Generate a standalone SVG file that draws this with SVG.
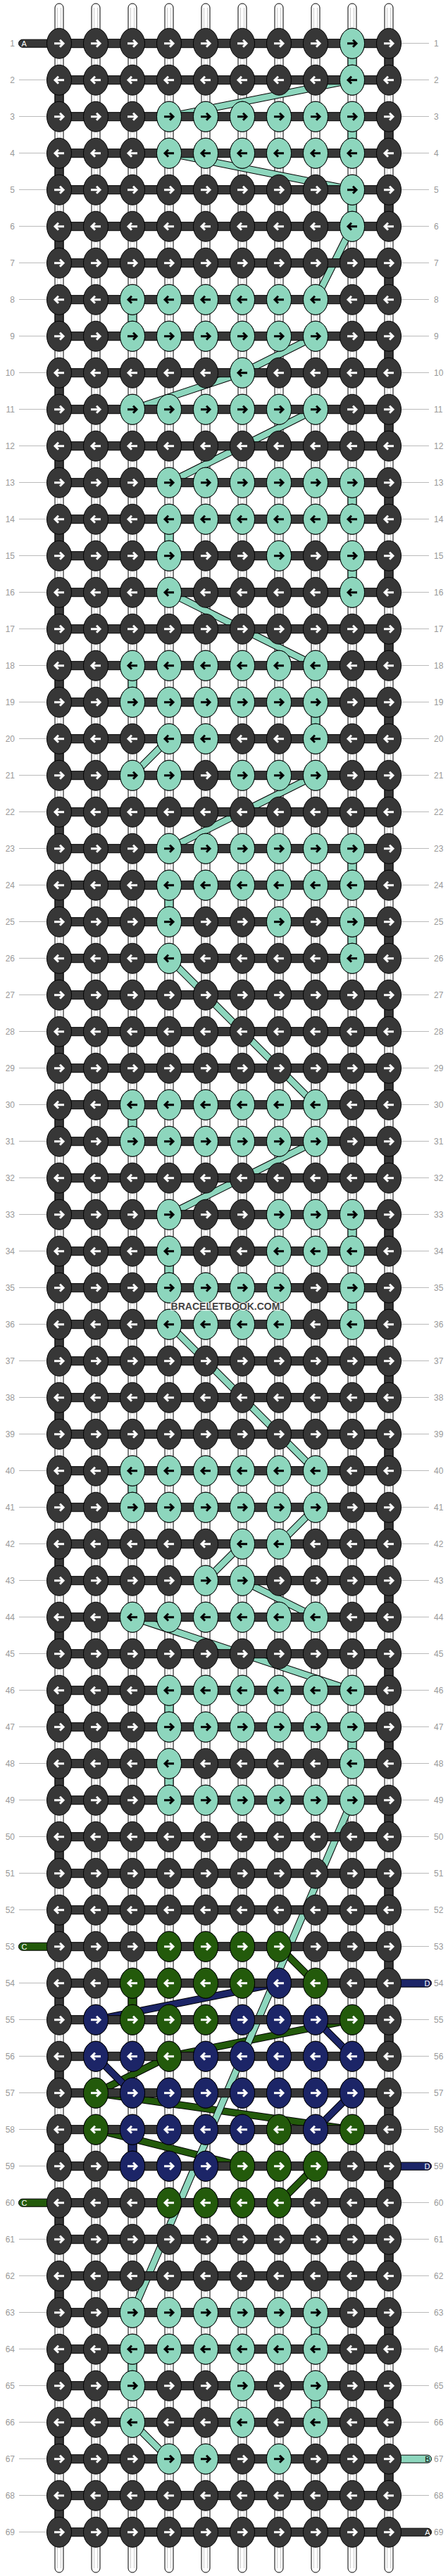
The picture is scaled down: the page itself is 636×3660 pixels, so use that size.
<svg xmlns="http://www.w3.org/2000/svg" width="636" height="3660" viewBox="0 0 636 3660">
<style>
text{font-family:"Liberation Sans",Arial,sans-serif}
.nl{font-size:12px;fill:#999;text-anchor:end}
.nr{font-size:12px;fill:#999}
.et{font-size:11px}
.tb{fill:#fff;stroke:#000;stroke-width:1}
.tin{stroke:#cccccc;stroke-width:1;fill:none}
.bo{stroke:#000;stroke-width:10.5;fill:none}
.bt{stroke:#8dd6bd;stroke-width:8.5;fill:none}
.bg{stroke:#235a0b;stroke-width:8.5;fill:none}
.bb{stroke:#1c2567;stroke-width:8.5;fill:none}
</style>
<defs>
<path id="ar" d="M-7,0H5M1,-5L6,0L1,5" fill="none" stroke-width="3"/>
<path id="al" d="M7,0H-5M-1,-5L-6,0L-1,5" fill="none" stroke-width="3"/>
<ellipse id="e" rx="17.5" ry="21.5" stroke="#000" stroke-width="1"/>
<g id="kdR"><use href="#e" fill="#373737"/><use href="#ar" stroke="#fff"/></g>
<g id="kdL"><use href="#e" fill="#373737"/><use href="#al" stroke="#fff"/></g>
<g id="ktR"><use href="#e" fill="#8dd6bd"/><use href="#ar" stroke="#000"/></g>
<g id="ktL"><use href="#e" fill="#8dd6bd"/><use href="#al" stroke="#000"/></g>
<g id="kgR"><use href="#e" fill="#235a0b"/><use href="#ar" stroke="#fff"/></g>
<g id="kgL"><use href="#e" fill="#235a0b"/><use href="#al" stroke="#fff"/></g>
<g id="kbR"><use href="#e" fill="#1c2567"/><use href="#ar" stroke="#fff"/></g>
<g id="kbL"><use href="#e" fill="#1c2567"/><use href="#al" stroke="#fff"/></g>
<g id="RR"><rect x="84" y="-6" width="468" height="12" fill="#373737" stroke="#000"/><use href="#kdR" x="84"/><use href="#kdR" x="136"/><use href="#kdR" x="188"/><use href="#kdR" x="240"/><use href="#kdR" x="292"/><use href="#kdR" x="344"/><use href="#kdR" x="396"/><use href="#kdR" x="448"/><use href="#kdR" x="500"/><use href="#kdR" x="552"/></g>
<g id="RL"><rect x="84" y="-6" width="468" height="12" fill="#373737" stroke="#000"/><use href="#kdL" x="84"/><use href="#kdL" x="136"/><use href="#kdL" x="188"/><use href="#kdL" x="240"/><use href="#kdL" x="292"/><use href="#kdL" x="344"/><use href="#kdL" x="396"/><use href="#kdL" x="448"/><use href="#kdL" x="500"/><use href="#kdL" x="552"/></g>
<g id="t49R"><use href="#ktR" x="240"/><use href="#ktR" x="292"/><use href="#ktR" x="344"/><use href="#ktR" x="396"/><use href="#ktR" x="448"/><use href="#ktR" x="500"/></g>
<g id="t49L"><use href="#ktL" x="240"/><use href="#ktL" x="292"/><use href="#ktL" x="344"/><use href="#ktL" x="396"/><use href="#ktL" x="448"/><use href="#ktL" x="500"/></g>
<g id="t38R"><use href="#ktR" x="188"/><use href="#ktR" x="240"/><use href="#ktR" x="292"/><use href="#ktR" x="344"/><use href="#ktR" x="396"/><use href="#ktR" x="448"/></g>
<g id="t38L"><use href="#ktL" x="188"/><use href="#ktL" x="240"/><use href="#ktL" x="292"/><use href="#ktL" x="344"/><use href="#ktL" x="396"/><use href="#ktL" x="448"/></g>
<path id="LN" d="M27,-0.2H67M569,-0.2H609" stroke="#bbb" fill="none"/>
<path id="LNR" d="M569,-0.2H609" stroke="#bbb" fill="none"/>
<path id="LNL" d="M27,-0.2H67" stroke="#bbb" fill="none"/>
<path id="tl" d="M32,-5.5H84V5.5H32A5.5 5.5 0 0 1 32,-5.5Z" stroke="#000"/>
<path id="tr" d="M552,-5.5H607A5.5 5.5 0 0 1 607,5.5H552Z" stroke="#000"/>
<rect id="vs" x="-6" y="0" width="12" height="32" stroke="#000"/>
</defs>
<rect width="636" height="3660" fill="#fff"/>
<g id="strings">
<rect class="tb" x="78" y="5" width="12" height="3650" rx="6"/>
<rect class="tb" x="130" y="5" width="12" height="3650" rx="6"/>
<rect class="tb" x="182" y="5" width="12" height="3650" rx="6"/>
<rect class="tb" x="234" y="5" width="12" height="3650" rx="6"/>
<rect class="tb" x="286" y="5" width="12" height="3650" rx="6"/>
<rect class="tb" x="338" y="5" width="12" height="3650" rx="6"/>
<rect class="tb" x="390" y="5" width="12" height="3650" rx="6"/>
<rect class="tb" x="442" y="5" width="12" height="3650" rx="6"/>
<rect class="tb" x="494" y="5" width="12" height="3650" rx="6"/>
<rect class="tb" x="546" y="5" width="12" height="3650" rx="6"/>
<path class="tin" d="M81.5,11V3649M86.5,11V3649M133.5,11V3649M138.5,11V3649M185.5,11V3649M190.5,11V3649M237.5,11V3649M242.5,11V3649M289.5,11V3649M294.5,11V3649M341.5,11V3649M346.5,11V3649M393.5,11V3649M398.5,11V3649M445.5,11V3649M450.5,11V3649M497.5,11V3649M502.5,11V3649M549.5,11V3649M554.5,11V3649"/>
</g>
<g id="connectors">
<g id="edge-left" fill="#373737"><use href="#vs" x="84" y="123.7"/><use href="#vs" x="84" y="227.7"/><use href="#vs" x="84" y="331.7"/><use href="#vs" x="84" y="435.7"/><use href="#vs" x="84" y="539.7"/><use href="#vs" x="84" y="643.7"/><use href="#vs" x="84" y="747.7"/><use href="#vs" x="84" y="851.7"/><use href="#vs" x="84" y="955.7"/><use href="#vs" x="84" y="1059.7"/><use href="#vs" x="84" y="1163.7"/><use href="#vs" x="84" y="1267.7"/><use href="#vs" x="84" y="1371.7"/><use href="#vs" x="84" y="1475.7"/><use href="#vs" x="84" y="1579.7"/><use href="#vs" x="84" y="1683.7"/><use href="#vs" x="84" y="1787.7"/><use href="#vs" x="84" y="1891.7"/><use href="#vs" x="84" y="1995.7"/><use href="#vs" x="84" y="2099.7"/><use href="#vs" x="84" y="2203.7"/><use href="#vs" x="84" y="2307.7"/><use href="#vs" x="84" y="2411.7"/><use href="#vs" x="84" y="2515.7"/><use href="#vs" x="84" y="2619.7"/><use href="#vs" x="84" y="2723.7"/><use href="#vs" x="84" y="2827.7"/><use href="#vs" x="84" y="2931.7"/><use href="#vs" x="84" y="3035.7"/><use href="#vs" x="84" y="3139.7"/><use href="#vs" x="84" y="3243.7"/><use href="#vs" x="84" y="3347.7"/><use href="#vs" x="84" y="3451.7"/><use href="#vs" x="84" y="3555.7"/></g>
<g id="edge-right" fill="#373737"><use href="#vs" x="552" y="71.7"/><use href="#vs" x="552" y="175.7"/><use href="#vs" x="552" y="279.7"/><use href="#vs" x="552" y="383.7"/><use href="#vs" x="552" y="487.7"/><use href="#vs" x="552" y="591.7"/><use href="#vs" x="552" y="695.7"/><use href="#vs" x="552" y="799.7"/><use href="#vs" x="552" y="903.7"/><use href="#vs" x="552" y="1007.7"/><use href="#vs" x="552" y="1111.7"/><use href="#vs" x="552" y="1215.7"/><use href="#vs" x="552" y="1319.7"/><use href="#vs" x="552" y="1423.7"/><use href="#vs" x="552" y="1527.7"/><use href="#vs" x="552" y="1631.7"/><use href="#vs" x="552" y="1735.7"/><use href="#vs" x="552" y="1839.7"/><use href="#vs" x="552" y="1943.7"/><use href="#vs" x="552" y="2047.7"/><use href="#vs" x="552" y="2151.7"/><use href="#vs" x="552" y="2255.7"/><use href="#vs" x="552" y="2359.7"/><use href="#vs" x="552" y="2463.7"/><use href="#vs" x="552" y="2567.7"/><use href="#vs" x="552" y="2671.7"/><use href="#vs" x="552" y="2775.7"/><use href="#vs" x="552" y="2879.7"/><use href="#vs" x="552" y="2983.7"/><use href="#vs" x="552" y="3087.7"/><use href="#vs" x="552" y="3191.7"/><use href="#vs" x="552" y="3295.7"/><use href="#vs" x="552" y="3399.7"/><use href="#vs" x="552" y="3503.7"/></g>
<g id="teal-vertical" fill="#8dd6bd"><use href="#vs" x="500" y="71.7"/><use href="#vs" x="500" y="175.7"/><use href="#vs" x="500" y="279.7"/><use href="#vs" x="188" y="435.7"/><use href="#vs" x="500" y="695.7"/><use href="#vs" x="240" y="747.7"/><use href="#vs" x="500" y="799.7"/><use href="#vs" x="188" y="955.7"/><use href="#vs" x="448" y="1007.7"/><use href="#vs" x="500" y="1215.7"/><use href="#vs" x="240" y="1267.7"/><use href="#vs" x="500" y="1319.7"/><use href="#vs" x="188" y="1579.7"/><use href="#vs" x="500" y="1735.7"/><use href="#vs" x="240" y="1787.7"/><use href="#vs" x="500" y="1839.7"/><use href="#vs" x="188" y="2099.7"/><use href="#vs" x="240" y="2411.7"/><use href="#vs" x="500" y="2463.7"/><use href="#vs" x="240" y="2515.7"/><use href="#vs" x="448" y="3295.7"/><use href="#vs" x="188" y="3347.7"/><use href="#vs" x="448" y="3399.7"/></g>
<use href="#vs" x="188" y="2827.7" fill="#235a0b"/>
<use href="#vs" x="188" y="3035.7" fill="#1c2567"/>
<g id="green-bands"><path class="bo" d="M396,2765.7L448,2817.7M500,2869.7L240,2921.7M240,2921.7L136,2973.7M136,2973.7L500,3025.7M136,3025.7L344,3077.7M448,3077.7L396,3129.7"/><path class="bg" d="M396,2765.7L448,2817.7M500,2869.7L240,2921.7M240,2921.7L136,2973.7M136,2973.7L500,3025.7M136,3025.7L344,3077.7M448,3077.7L396,3129.7"/></g>
<g id="blue-bands"><path class="bo" d="M396,2817.7L136,2869.7M448,2869.7L500,2921.7M136,2921.7L188,2973.7M500,2973.7L448,3025.7"/><path class="bb" d="M396,2817.7L136,2869.7M448,2869.7L500,2921.7M136,2921.7L188,2973.7M500,2973.7L448,3025.7"/></g>
<g id="teal-bands"><path class="bo" d="M500,113.7L240,165.7M240,217.7L500,269.7M500,321.7L448,425.7M448,477.7L344,529.7M344,529.7L188,581.7M448,581.7L240,685.7M240,841.7L448,945.7M240,1049.7L188,1101.7M448,1101.7L240,1205.7M240,1361.7L448,1569.7M448,1621.7L240,1725.7M240,1881.7L448,2089.7M448,2141.7L396,2193.7M344,2193.7L292,2245.7M344,2245.7L448,2297.7M188,2297.7L500,2401.7M500,2557.7L188,3285.7M188,3441.7L240,3493.7"/><path class="bt" d="M500,113.7L240,165.7M240,217.7L500,269.7M500,321.7L448,425.7M448,477.7L344,529.7M344,529.7L188,581.7M448,581.7L240,685.7M240,841.7L448,945.7M240,1049.7L188,1101.7M448,1101.7L240,1205.7M240,1361.7L448,1569.7M448,1621.7L240,1725.7M240,1881.7L448,2089.7M448,2141.7L396,2193.7M344,2193.7L292,2245.7M344,2245.7L448,2297.7M188,2297.7L500,2401.7M500,2557.7L188,3285.7M188,3441.7L240,3493.7"/></g>
</g>
<g id="rows">
<g id="r1" transform="translate(0,61.7)"><use href="#LNR"/><use href="#tl" fill="#373737"/><text class="et" x="30.5" y="4" fill="#fff">A</text><use href="#RR"/><use href="#ktR" x="500"/><text class="nl" x="21" y="4.3">1</text><text class="nr" x="616" y="4.3">1</text></g>
<g id="r2" transform="translate(0,113.7)"><use href="#LN"/><use href="#RL"/><use href="#ktL" x="500"/><text class="nl" x="21" y="4.3">2</text><text class="nr" x="616" y="4.3">2</text></g>
<g id="r3" transform="translate(0,165.7)"><use href="#LN"/><use href="#RR"/><use href="#t49R"/><text class="nl" x="21" y="4.3">3</text><text class="nr" x="616" y="4.3">3</text></g>
<g id="r4" transform="translate(0,217.7)"><use href="#LN"/><use href="#RL"/><use href="#t49L"/><text class="nl" x="21" y="4.3">4</text><text class="nr" x="616" y="4.3">4</text></g>
<g id="r5" transform="translate(0,269.7)"><use href="#LN"/><use href="#RR"/><use href="#ktR" x="500"/><text class="nl" x="21" y="4.3">5</text><text class="nr" x="616" y="4.3">5</text></g>
<g id="r6" transform="translate(0,321.7)"><use href="#LN"/><use href="#RL"/><use href="#ktL" x="500"/><text class="nl" x="21" y="4.3">6</text><text class="nr" x="616" y="4.3">6</text></g>
<g id="r7" transform="translate(0,373.7)"><use href="#LN"/><use href="#RR"/><text class="nl" x="21" y="4.3">7</text><text class="nr" x="616" y="4.3">7</text></g>
<g id="r8" transform="translate(0,425.7)"><use href="#LN"/><use href="#RL"/><use href="#t38L"/><text class="nl" x="21" y="4.3">8</text><text class="nr" x="616" y="4.3">8</text></g>
<g id="r9" transform="translate(0,477.7)"><use href="#LN"/><use href="#RR"/><use href="#t38R"/><text class="nl" x="21" y="4.3">9</text><text class="nr" x="616" y="4.3">9</text></g>
<g id="r10" transform="translate(0,529.7)"><use href="#LN"/><use href="#RL"/><use href="#ktL" x="344"/><text class="nl" x="21" y="4.3">10</text><text class="nr" x="616" y="4.3">10</text></g>
<g id="r11" transform="translate(0,581.7)"><use href="#LN"/><use href="#RR"/><use href="#t38R"/><text class="nl" x="21" y="4.3">11</text><text class="nr" x="616" y="4.3">11</text></g>
<g id="r12" transform="translate(0,633.7)"><use href="#LN"/><use href="#RL"/><text class="nl" x="21" y="4.3">12</text><text class="nr" x="616" y="4.3">12</text></g>
<g id="r13" transform="translate(0,685.7)"><use href="#LN"/><use href="#RR"/><use href="#t49R"/><text class="nl" x="21" y="4.3">13</text><text class="nr" x="616" y="4.3">13</text></g>
<g id="r14" transform="translate(0,737.7)"><use href="#LN"/><use href="#RL"/><use href="#t49L"/><text class="nl" x="21" y="4.3">14</text><text class="nr" x="616" y="4.3">14</text></g>
<g id="r15" transform="translate(0,789.7)"><use href="#LN"/><use href="#RR"/><use href="#ktR" x="240"/><use href="#ktR" x="396"/><use href="#ktR" x="500"/><text class="nl" x="21" y="4.3">15</text><text class="nr" x="616" y="4.3">15</text></g>
<g id="r16" transform="translate(0,841.7)"><use href="#LN"/><use href="#RL"/><use href="#ktL" x="240"/><use href="#ktL" x="500"/><text class="nl" x="21" y="4.3">16</text><text class="nr" x="616" y="4.3">16</text></g>
<g id="r17" transform="translate(0,893.7)"><use href="#LN"/><use href="#RR"/><text class="nl" x="21" y="4.3">17</text><text class="nr" x="616" y="4.3">17</text></g>
<g id="r18" transform="translate(0,945.7)"><use href="#LN"/><use href="#RL"/><use href="#t38L"/><text class="nl" x="21" y="4.3">18</text><text class="nr" x="616" y="4.3">18</text></g>
<g id="r19" transform="translate(0,997.7)"><use href="#LN"/><use href="#RR"/><use href="#t38R"/><text class="nl" x="21" y="4.3">19</text><text class="nr" x="616" y="4.3">19</text></g>
<g id="r20" transform="translate(0,1049.7)"><use href="#LN"/><use href="#RL"/><use href="#ktL" x="240"/><use href="#ktL" x="292"/><use href="#ktL" x="448"/><text class="nl" x="21" y="4.3">20</text><text class="nr" x="616" y="4.3">20</text></g>
<g id="r21" transform="translate(0,1101.7)"><use href="#LN"/><use href="#RR"/><use href="#ktR" x="188"/><use href="#ktR" x="240"/><use href="#ktR" x="344"/><use href="#ktR" x="396"/><use href="#ktR" x="448"/><text class="nl" x="21" y="4.3">21</text><text class="nr" x="616" y="4.3">21</text></g>
<g id="r22" transform="translate(0,1153.7)"><use href="#LN"/><use href="#RL"/><text class="nl" x="21" y="4.3">22</text><text class="nr" x="616" y="4.3">22</text></g>
<g id="r23" transform="translate(0,1205.7)"><use href="#LN"/><use href="#RR"/><use href="#t49R"/><text class="nl" x="21" y="4.3">23</text><text class="nr" x="616" y="4.3">23</text></g>
<g id="r24" transform="translate(0,1257.7)"><use href="#LN"/><use href="#RL"/><use href="#t49L"/><text class="nl" x="21" y="4.3">24</text><text class="nr" x="616" y="4.3">24</text></g>
<g id="r25" transform="translate(0,1309.7)"><use href="#LN"/><use href="#RR"/><use href="#ktR" x="240"/><use href="#ktR" x="396"/><use href="#ktR" x="500"/><text class="nl" x="21" y="4.3">25</text><text class="nr" x="616" y="4.3">25</text></g>
<g id="r26" transform="translate(0,1361.7)"><use href="#LN"/><use href="#RL"/><use href="#ktL" x="240"/><use href="#ktL" x="500"/><text class="nl" x="21" y="4.3">26</text><text class="nr" x="616" y="4.3">26</text></g>
<g id="r27" transform="translate(0,1413.7)"><use href="#LN"/><use href="#RR"/><text class="nl" x="21" y="4.3">27</text><text class="nr" x="616" y="4.3">27</text></g>
<g id="r28" transform="translate(0,1465.7)"><use href="#LN"/><use href="#RL"/><text class="nl" x="21" y="4.3">28</text><text class="nr" x="616" y="4.3">28</text></g>
<g id="r29" transform="translate(0,1517.7)"><use href="#LN"/><use href="#RR"/><text class="nl" x="21" y="4.3">29</text><text class="nr" x="616" y="4.3">29</text></g>
<g id="r30" transform="translate(0,1569.7)"><use href="#LN"/><use href="#RL"/><use href="#t38L"/><text class="nl" x="21" y="4.3">30</text><text class="nr" x="616" y="4.3">30</text></g>
<g id="r31" transform="translate(0,1621.7)"><use href="#LN"/><use href="#RR"/><use href="#t38R"/><text class="nl" x="21" y="4.3">31</text><text class="nr" x="616" y="4.3">31</text></g>
<g id="r32" transform="translate(0,1673.7)"><use href="#LN"/><use href="#RL"/><text class="nl" x="21" y="4.3">32</text><text class="nr" x="616" y="4.3">32</text></g>
<g id="r33" transform="translate(0,1725.7)"><use href="#LN"/><use href="#RR"/><use href="#ktR" x="240"/><use href="#ktR" x="396"/><use href="#ktR" x="448"/><use href="#ktR" x="500"/><text class="nl" x="21" y="4.3">33</text><text class="nr" x="616" y="4.3">33</text></g>
<g id="r34" transform="translate(0,1777.7)"><use href="#LN"/><use href="#RL"/><use href="#ktL" x="240"/><use href="#ktL" x="396"/><use href="#ktL" x="448"/><use href="#ktL" x="500"/><text class="nl" x="21" y="4.3">34</text><text class="nr" x="616" y="4.3">34</text></g>
<g id="r35" transform="translate(0,1829.7)"><use href="#LN"/><use href="#RR"/><use href="#ktR" x="240"/><use href="#ktR" x="292"/><use href="#ktR" x="344"/><use href="#ktR" x="396"/><use href="#ktR" x="500"/><text class="nl" x="21" y="4.3">35</text><text class="nr" x="616" y="4.3">35</text></g>
<g id="r36" transform="translate(0,1881.7)"><use href="#LN"/><use href="#RL"/><use href="#ktL" x="240"/><use href="#ktL" x="292"/><use href="#ktL" x="344"/><use href="#ktL" x="396"/><use href="#ktL" x="500"/><text class="nl" x="21" y="4.3">36</text><text class="nr" x="616" y="4.3">36</text></g>
<g id="r37" transform="translate(0,1933.7)"><use href="#LN"/><use href="#RR"/><text class="nl" x="21" y="4.3">37</text><text class="nr" x="616" y="4.3">37</text></g>
<g id="r38" transform="translate(0,1985.7)"><use href="#LN"/><use href="#RL"/><text class="nl" x="21" y="4.3">38</text><text class="nr" x="616" y="4.3">38</text></g>
<g id="r39" transform="translate(0,2037.7)"><use href="#LN"/><use href="#RR"/><text class="nl" x="21" y="4.3">39</text><text class="nr" x="616" y="4.3">39</text></g>
<g id="r40" transform="translate(0,2089.7)"><use href="#LN"/><use href="#RL"/><use href="#t38L"/><text class="nl" x="21" y="4.3">40</text><text class="nr" x="616" y="4.3">40</text></g>
<g id="r41" transform="translate(0,2141.7)"><use href="#LN"/><use href="#RR"/><use href="#t38R"/><text class="nl" x="21" y="4.3">41</text><text class="nr" x="616" y="4.3">41</text></g>
<g id="r42" transform="translate(0,2193.7)"><use href="#LN"/><use href="#RL"/><use href="#ktL" x="344"/><use href="#ktL" x="396"/><text class="nl" x="21" y="4.3">42</text><text class="nr" x="616" y="4.3">42</text></g>
<g id="r43" transform="translate(0,2245.7)"><use href="#LN"/><use href="#RR"/><use href="#ktR" x="292"/><use href="#ktR" x="344"/><text class="nl" x="21" y="4.3">43</text><text class="nr" x="616" y="4.3">43</text></g>
<g id="r44" transform="translate(0,2297.7)"><use href="#LN"/><use href="#RL"/><use href="#t38L"/><text class="nl" x="21" y="4.3">44</text><text class="nr" x="616" y="4.3">44</text></g>
<g id="r45" transform="translate(0,2349.7)"><use href="#LN"/><use href="#RR"/><text class="nl" x="21" y="4.3">45</text><text class="nr" x="616" y="4.3">45</text></g>
<g id="r46" transform="translate(0,2401.7)"><use href="#LN"/><use href="#RL"/><use href="#t49L"/><text class="nl" x="21" y="4.3">46</text><text class="nr" x="616" y="4.3">46</text></g>
<g id="r47" transform="translate(0,2453.7)"><use href="#LN"/><use href="#RR"/><use href="#t49R"/><text class="nl" x="21" y="4.3">47</text><text class="nr" x="616" y="4.3">47</text></g>
<g id="r48" transform="translate(0,2505.7)"><use href="#LN"/><use href="#RL"/><use href="#ktL" x="240"/><use href="#ktL" x="500"/><text class="nl" x="21" y="4.3">48</text><text class="nr" x="616" y="4.3">48</text></g>
<g id="r49" transform="translate(0,2557.7)"><use href="#LN"/><use href="#RR"/><use href="#t49R"/><text class="nl" x="21" y="4.3">49</text><text class="nr" x="616" y="4.3">49</text></g>
<g id="r50" transform="translate(0,2609.7)"><use href="#LN"/><use href="#RL"/><text class="nl" x="21" y="4.3">50</text><text class="nr" x="616" y="4.3">50</text></g>
<g id="r51" transform="translate(0,2661.7)"><use href="#LN"/><use href="#RR"/><text class="nl" x="21" y="4.3">51</text><text class="nr" x="616" y="4.3">51</text></g>
<g id="r52" transform="translate(0,2713.7)"><use href="#LN"/><use href="#RL"/><text class="nl" x="21" y="4.3">52</text><text class="nr" x="616" y="4.3">52</text></g>
<g id="r53" transform="translate(0,2765.7)"><use href="#LNR"/><use href="#tl" fill="#235a0b"/><text class="et" x="30.5" y="4" fill="#fff">C</text><use href="#RR"/><use href="#kgR" x="240"/><use href="#kgR" x="292"/><use href="#kgR" x="344"/><use href="#kgR" x="396"/><text class="nl" x="21" y="4.3">53</text><text class="nr" x="616" y="4.3">53</text></g>
<g id="r54" transform="translate(0,2817.7)"><use href="#LNL"/><use href="#tr" fill="#1c2567"/><text class="et" x="610.5" y="4" fill="#fff" text-anchor="end">D</text><use href="#RL"/><use href="#kgL" x="188"/><use href="#kgL" x="240"/><use href="#kgL" x="292"/><use href="#kgL" x="344"/><use href="#kbL" x="396"/><use href="#kgL" x="448"/><text class="nl" x="21" y="4.3">54</text><text class="nr" x="616" y="4.3">54</text></g>
<g id="r55" transform="translate(0,2869.7)"><use href="#LN"/><use href="#RR"/><use href="#kbR" x="136"/><use href="#kgR" x="188"/><use href="#kgR" x="240"/><use href="#kgR" x="292"/><use href="#kbR" x="344"/><use href="#kbR" x="396"/><use href="#kbR" x="448"/><use href="#kgR" x="500"/><text class="nl" x="21" y="4.3">55</text><text class="nr" x="616" y="4.3">55</text></g>
<g id="r56" transform="translate(0,2921.7)"><use href="#LN"/><use href="#RL"/><use href="#kbL" x="136"/><use href="#kbL" x="188"/><use href="#kgL" x="240"/><use href="#kbL" x="292"/><use href="#kbL" x="344"/><use href="#kbL" x="396"/><use href="#kbL" x="448"/><use href="#kbL" x="500"/><text class="nl" x="21" y="4.3">56</text><text class="nr" x="616" y="4.3">56</text></g>
<g id="r57" transform="translate(0,2973.7)"><use href="#LN"/><use href="#RR"/><use href="#kgR" x="136"/><use href="#kbR" x="188"/><use href="#kbR" x="240"/><use href="#kbR" x="292"/><use href="#kbR" x="344"/><use href="#kbR" x="396"/><use href="#kbR" x="448"/><use href="#kbR" x="500"/><text class="nl" x="21" y="4.3">57</text><text class="nr" x="616" y="4.3">57</text></g>
<g id="r58" transform="translate(0,3025.7)"><use href="#LN"/><use href="#RL"/><use href="#kgL" x="136"/><use href="#kbL" x="188"/><use href="#kbL" x="240"/><use href="#kbL" x="292"/><use href="#kbL" x="344"/><use href="#kgL" x="396"/><use href="#kbL" x="448"/><use href="#kgL" x="500"/><text class="nl" x="21" y="4.3">58</text><text class="nr" x="616" y="4.3">58</text></g>
<g id="r59" transform="translate(0,3077.7)"><use href="#LNL"/><use href="#tr" fill="#1c2567"/><text class="et" x="610.5" y="4" fill="#fff" text-anchor="end">D</text><use href="#RR"/><use href="#kbR" x="188"/><use href="#kbR" x="240"/><use href="#kbR" x="292"/><use href="#kgR" x="344"/><use href="#kgR" x="396"/><use href="#kgR" x="448"/><text class="nl" x="21" y="4.3">59</text><text class="nr" x="616" y="4.3">59</text></g>
<g id="r60" transform="translate(0,3129.7)"><use href="#LNR"/><use href="#tl" fill="#235a0b"/><text class="et" x="30.5" y="4" fill="#fff">C</text><use href="#RL"/><use href="#kgL" x="240"/><use href="#kgL" x="292"/><use href="#kgL" x="344"/><use href="#kgL" x="396"/><text class="nl" x="21" y="4.3">60</text><text class="nr" x="616" y="4.3">60</text></g>
<g id="r61" transform="translate(0,3181.7)"><use href="#LN"/><use href="#RR"/><text class="nl" x="21" y="4.3">61</text><text class="nr" x="616" y="4.3">61</text></g>
<g id="r62" transform="translate(0,3233.7)"><use href="#LN"/><use href="#RL"/><text class="nl" x="21" y="4.3">62</text><text class="nr" x="616" y="4.3">62</text></g>
<g id="r63" transform="translate(0,3285.7)"><use href="#LN"/><use href="#RR"/><use href="#t38R"/><text class="nl" x="21" y="4.3">63</text><text class="nr" x="616" y="4.3">63</text></g>
<g id="r64" transform="translate(0,3337.7)"><use href="#LN"/><use href="#RL"/><use href="#t38L"/><text class="nl" x="21" y="4.3">64</text><text class="nr" x="616" y="4.3">64</text></g>
<g id="r65" transform="translate(0,3389.7)"><use href="#LN"/><use href="#RR"/><use href="#ktR" x="188"/><use href="#ktR" x="344"/><use href="#ktR" x="448"/><text class="nl" x="21" y="4.3">65</text><text class="nr" x="616" y="4.3">65</text></g>
<g id="r66" transform="translate(0,3441.7)"><use href="#LN"/><use href="#RL"/><use href="#ktL" x="188"/><use href="#ktL" x="344"/><use href="#ktL" x="448"/><text class="nl" x="21" y="4.3">66</text><text class="nr" x="616" y="4.3">66</text></g>
<g id="r67" transform="translate(0,3493.7)"><use href="#LNL"/><use href="#tr" fill="#8dd6bd"/><text class="et" x="610.5" y="4" fill="#000" text-anchor="end">B</text><use href="#RR"/><use href="#ktR" x="240"/><use href="#ktR" x="292"/><use href="#ktR" x="396"/><text class="nl" x="21" y="4.3">67</text><text class="nr" x="616" y="4.3">67</text></g>
<g id="r68" transform="translate(0,3545.7)"><use href="#LN"/><use href="#RL"/><text class="nl" x="21" y="4.3">68</text><text class="nr" x="616" y="4.3">68</text></g>
<g id="r69" transform="translate(0,3597.7)"><use href="#LNL"/><use href="#tr" fill="#373737"/><text class="et" x="610.5" y="4" fill="#fff" text-anchor="end">A</text><use href="#RR"/><text class="nl" x="21" y="4.3">69</text><text class="nr" x="616" y="4.3">69</text></g>
</g>
<text x="320" y="1861" text-anchor="middle" font-family="'Liberation Sans',Arial,sans-serif" font-size="14" font-weight="bold" fill="#444" stroke="#fff" stroke-width="2.5" stroke-opacity="0.8" paint-order="stroke">BRACELETBOOK.COM</text>
</svg>
